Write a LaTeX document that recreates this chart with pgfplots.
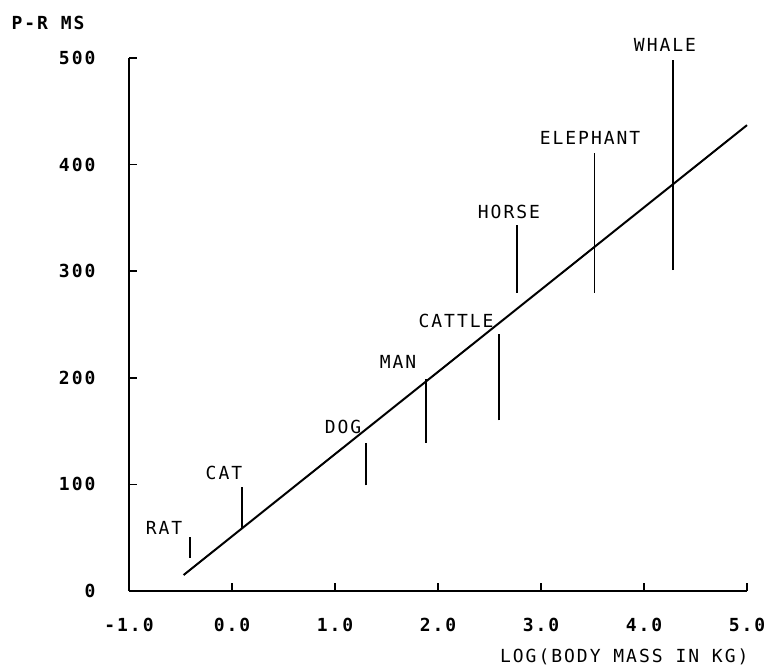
\documentclass[border=0pt]{standalone}
\usepackage{fontspec}
\usepackage{pgfplots}
\pgfplotsset{compat=1.18}
\newfontfamily\pfont[LetterSpace=11]{DejaVu Sans Mono}
\newcommand\lbl{\pfont\fontsize{18}{20}\selectfont}
\newcommand\tk{\pfont\bfseries\fontsize{18}{20}\selectfont}
\begin{document}
\begin{tikzpicture}[x=1pt,y=1pt]
\useasboundingbox (0,0) rectangle (770,668);
\begin{axis}[at={(129pt,77pt)}, anchor=south west, scale only axis,
  width=618pt, height=533pt,
  xmin=-1, xmax=5, ymin=0, ymax=500,
  axis lines=left, axis line style={-, line width=1.6pt},
  xtick={-1,0,1,2,3,4,5}, ytick={0,100,200,300,400,500},
  xticklabels={-1.0,0.0,1.0,2.0,3.0,4.0,5.0},
  yticklabels={0,100,200,300,400,500},
  tick align=inside, major tick length=8pt,
  tick style={line width=1.6pt, black},
  xticklabel style={font=\tk, anchor=north, yshift=-24pt},
  yticklabel style={font=\tk, anchor=east, xshift=-30pt},
  clip=false]
\addplot[line width=2pt] coordinates {(-0.47,15) (5.0,437)};
\addplot[line width=1.8pt] coordinates {(-0.41,31) (-0.41,51)};
\addplot[line width=1.8pt] coordinates {(0.10,59) (0.10,98)};
\addplot[line width=1.8pt] coordinates {(1.30,99) (1.30,139)};
\addplot[line width=1.8pt] coordinates {(1.88,139) (1.88,199)};
\addplot[line width=1.8pt] coordinates {(2.59,160) (2.59,241)};
\addplot[line width=1.8pt] coordinates {(2.77,280) (2.77,343)};
\addplot[line width=1.8pt] coordinates {(3.52,280) (3.52,411)};
\addplot[line width=1.8pt] coordinates {(4.28,301) (4.28,498)};
\node[font=\lbl] at (axis cs:-0.66,59) {RAT};
\node[font=\lbl] at (axis cs:-0.078,111) {CAT};
\node[font=\lbl] at (axis cs:1.078,154) {DOG};
\node[font=\lbl] at (axis cs:1.612,215) {MAN};
\node[font=\lbl] at (axis cs:2.175,253) {CATTLE};
\node[font=\lbl] at (axis cs:2.689,356) {HORSE};
\node[font=\lbl] at (axis cs:3.476,425) {ELEPHANT};
\node[font=\lbl] at (axis cs:4.204,512) {WHALE};
\end{axis}
\node[font=\tk, anchor=west] at (8,645) {P-R MS};
\node[font=\lbl, anchor=east] at (752,11) {LOG(BODY MASS IN KG)};
\end{tikzpicture}
\end{document}
